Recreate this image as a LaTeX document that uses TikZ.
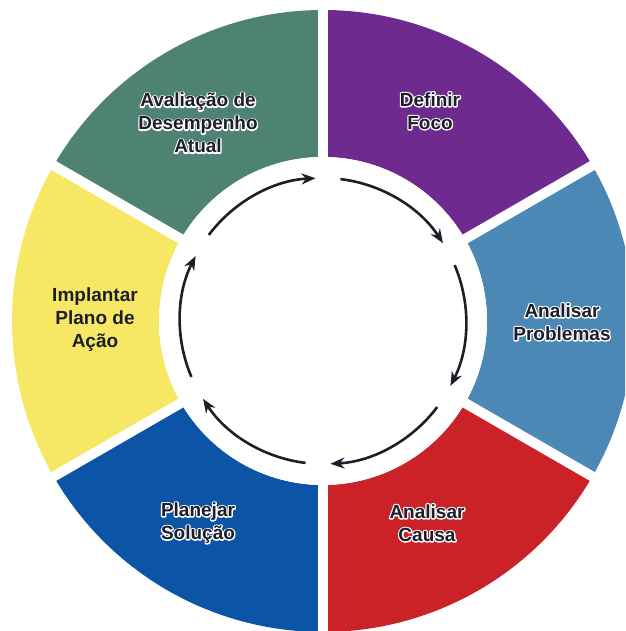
\documentclass[tikz,border=0pt]{standalone}
\usepackage{fontspec}
\setmainfont{Liberation Sans}
\usetikzlibrary{arrows.meta}
\definecolor{cgreen}{HTML}{4E8272}
\definecolor{cpurple}{HTML}{6F2A8F}
\definecolor{csteel}{HTML}{4B88B5}
\definecolor{cred}{HTML}{CB2228}
\definecolor{cblue}{HTML}{0C55A6}
\definecolor{cyellow}{HTML}{F6E865}
\definecolor{ctext}{HTML}{1E1E2A}
\newif\ifhalo
\newcommand\hl{\ifhalo\special{pdf:literal direct 1 1 1 RG 2.6 w 1 j 1 Tr}\else\special{pdf:literal direct 0 Tr}\fi}
\newcommand\hloff{\special{pdf:literal direct 0 Tr}}
\newcommand\mylabel[3]{%
  \global\halotrue
  \node[lbltext,text=white] at (#1) {#3\hloff};
  \global\halofalse
  \node[lbltext] (#2) at (#1) {#3};}
\begin{document}
\begin{tikzpicture}[x=1pt,y=1pt,
  lbltext/.style={align=center,font=\fontsize{19}{23}\selectfont\bfseries,inner sep=0pt,text=ctext},
  cyclearrow/.style={line width=2.6pt,draw=ctext,-{Stealth[length=14pt,width=11pt]}},
  gapline/.style={white,line width=10pt}]
\useasboundingbox (0,0) rectangle (625,631);
\clip (0,0) rectangle (625,631);
\fill[white] (0,0) rectangle (625,631);
\coordinate (C) at (323,310);
\def\Ro{311}\def\Ri{164}
% sectors
\foreach \a/\b/\col in {90/150/cgreen, 30/90/cpurple, -30/30/csteel, -90/-30/cred, -150/-90/cblue, 150/210/cyellow}{
  \fill[\col] ([shift={(C)}]\a:\Ro) arc[start angle=\a,end angle=\b,radius=\Ro]
     -- ([shift={(C)}]\b:\Ri) arc[start angle=\b,end angle=\a,radius=\Ri] -- cycle;}
% gaps
\foreach \g in {30,90,150,210,270,330}{
  \draw[gapline] (C) -- ([shift={(C)}]\g:330);}
\fill[white] (C) circle[radius=\Ri];
% cycle arrows
\foreach \g in {90,30,-30,-90,-150,-210}{
  \pgfmathsetmacro\s{\g+53}
  \pgfmathsetmacro\e{\g+3}
  \draw[cyclearrow] ([shift={(C)}]\s:143) arc[start angle=\s,end angle=\e,radius=143];}
% labels
\coordinate (pgreen) at (198,508);
\coordinate (ppurple) at (430,520);
\coordinate (psteel) at (562,309);
\coordinate (pred) at (427,108);
\coordinate (pblue) at (198,108);
\mylabel{pgreen}{lgreen}{\hl Avaliação de\\\hl Desempenho\\\hl Atual}
\mylabel{ppurple}{lpurple}{\hl Definir\\\hl Foco}
\mylabel{psteel}{lsteel}{\hl Analisar\\\hl Problemas}
\mylabel{pred}{lred}{\hl Analisar\\\hl Causa}
\mylabel{pblue}{lblue}{\hl Planejar\\\hl Solução}
\node[lbltext] (lyellow) at (95,311) {Implantar\\Plano de\\Ação};
\end{tikzpicture}
\end{document}
